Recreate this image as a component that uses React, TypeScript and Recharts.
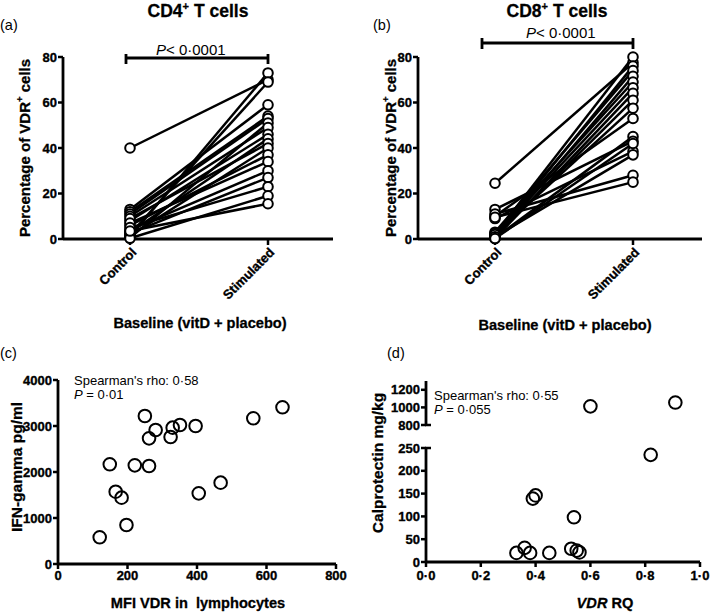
import React from "react";
import { LineChart, Line, XAxis, YAxis, ScatterChart, Scatter } from "recharts";

// paired values, one entry per subject (a = CD4+, b = CD8+)
const groups = ["Control", "Stimulated"];
const cd4Control = [40, 1, 2, 13, 12, 11, 0.5, 10, 8, 3, 9, 1.5, 6, 7, 4, 2.5, 5, 0.3, 3.5];
const cd4Stimulated = [70, 73, 69, 59, 54, 53, 51, 49, 46, 44, 42, 40, 37, 34, 30, 27, 23, 19, 15.5];
const cd8Control = [24.5, 2, 1, 3, 0.5, 2.5, 1.5, 0.3, 1, 2, 10, 0.5, 13, 9, 1, 11, 9.5, 0.2];
const cd8Stimulated = [77.5, 80, 76, 74, 71.5, 69, 66.5, 64, 61, 57.5, 53, 45, 43, 38.5, 37, 28, 25, 42];
const pctTicks = [0, 20, 40, 60, 80];

// (c) MFI VDR vs IFN-gamma
const mfiVdr = [120, 149, 166, 183, 197, 221, 250, 262, 262, 281, 324, 330, 351, 396, 405, 468, 562, 646];
const ifnGamma = [580, 2167, 1572, 1442, 848, 2145, 3217, 2732, 2130, 2913, 2761, 2964, 3022, 3000, 1536, 1768, 3167, 3406];
const mfiTicks = [0, 200, 400, 600, 800];
const ifnTicks = [0, 1000, 2000, 3000, 4000];

// (d) VDR RQ vs calprotectin (broken y axis)
const vdrRq = [0.33, 0.36, 0.38, 0.39, 0.4, 0.45, 0.53, 0.54, 0.55, 0.56, 0.6, 0.82, 0.91];
const calprotectin = [20, 31, 20, 139, 146, 20, 29, 98, 25, 21, 1012, 235, 1055];
const rqTicks = [0, 0.2, 0.4, 0.6, 0.8, 1];
const calLowTicks = [0, 50, 100, 150, 200, 250];
const calHighTicks = [800, 1000, 1200];

const FONT = '"Liberation Sans", Arial, sans-serif';
const axisLine = { stroke: "#000", strokeWidth: 2.8 };
const tickLine = { stroke: "#000", strokeWidth: 2.5 };

const pairedRows = (ctrl: number[], stim: number[]) =>
  groups.map((g, gi) => {
    const row: Record<string, number | string> = { group: g };
    ctrl.forEach((v, i) => {
      row[`s${i}`] = gi === 0 ? v : stim[i];
    });
    return row;
  });

const points = (xs: number[], ys: number[]) => xs.map((x, i) => ({ x, y: ys[i] }));

const cd4Rows = pairedRows(cd4Control, cd4Stimulated);
const cd8Rows = pairedRows(cd8Control, cd8Stimulated);
const ifnPoints = points(mfiVdr, ifnGamma);
const calPoints = points(vdrRq, calprotectin);
const calLow = calPoints.filter((p) => p.y < 800);
const calHigh = calPoints.filter((p) => p.y >= 800);

const dotFmt = (v: number) => v.toFixed(1).replace(".", "·");

// heavy bold, like the GraphPad export
const boldText = { fill: "#000", fontSize: 13, fontWeight: 700, fontFamily: FONT, stroke: "#000", strokeWidth: 0.35 };

function YTick({ x, y, payload }: any) {
  return (
    <text x={x} y={y} dy="0.36em" textAnchor="end" {...boldText}>
      {payload.value}
    </text>
  );
}

const xTick = (fmt?: (v: number) => string) => ({ x, y, payload }: any) =>
  (
    <text x={x} y={y} dy="0.72em" textAnchor="middle" {...boldText}>
      {fmt ? fmt(payload.value) : payload.value}
    </text>
  );

function SlantTick({ x, y, payload }: any) {
  return (
    <g transform={`translate(${x + 4},${y + 3})`}>
      <text x={0} y={0} dy="0.35em" textAnchor="end" transform="rotate(-45)" {...boldText}>
        {payload.value}
      </text>
    </g>
  );
}

const ring = (r: number, fill: string) => (p: any) =>
  <circle cx={p.cx} cy={p.cy} r={r} fill={fill} stroke="#000" strokeWidth={2} />;

const yAxisCommon = {
  type: "number" as const,
  stroke: "#000",
  tick: <YTick />,
  tickSize: 5,
  tickMargin: 1,
  interval: 0 as const,
  axisLine,
  tickLine,
};

function PairedPanel({ rows, n, width, right, padding }: any) {
  return (
    <LineChart width={width} height={315} data={rows} margin={{ top: 57, right, bottom: 15, left: 0 }}>
      <XAxis
        dataKey="group"
        type="category"
        stroke="#000"
        interval={0}
        padding={padding}
        height={61}
        tick={<SlantTick />}
        tickSize={6}
        tickMargin={2}
        axisLine={axisLine}
        tickLine={tickLine}
      />
      <YAxis {...yAxisCommon} domain={[0, 80]} ticks={pctTicks} width={63} />
      {Array.from({ length: n }, (_, i) => (
        <Line
          key={i}
          dataKey={`s${i}`}
          type="linear"
          stroke="#000"
          strokeWidth={2.5}
          dot={{ r: 4.8, fill: "#fff", stroke: "#000", strokeWidth: 2 }}
          activeDot={false}
          isAnimationActive={false}
        />
      ))}
    </LineChart>
  );
}

export default function App() {
  const txt = { fontFamily: FONT, fill: "#000" };
  const heavy = { ...txt, fontWeight: 700, stroke: "#000", strokeWidth: 0.3 };
  return (
    <div style={{ position: "absolute", left: 0, top: 0, width: 711, height: 612, background: "#fff", fontFamily: FONT }}>
      <div style={{ position: "absolute", left: 0, top: 0 }}>
        <PairedPanel rows={cd4Rows} n={cd4Control.length} width={340} right={7} padding={{ left: 67, right: 65 }} />
      </div>
      <div style={{ position: "absolute", left: 355, top: 0 }}>
        <PairedPanel rows={cd8Rows} n={cd8Control.length} width={356} right={9} padding={{ left: 77, right: 69 }} />
      </div>

      <div style={{ position: "absolute", left: 0, top: 320 }}>
        <ScatterChart width={352} height={290} margin={{ top: 60, right: 16, bottom: 0, left: 0 }}>
          <XAxis
            type="number"
            dataKey="x"
            stroke="#000"
            domain={[0, 800]}
            ticks={mfiTicks}
            interval={0}
            height={46}
            tick={xTick()}
            tickSize={5}
            tickMargin={2}
            axisLine={axisLine}
            tickLine={tickLine}
          />
          <YAxis {...yAxisCommon} dataKey="y" domain={[0, 4000]} ticks={ifnTicks} width={58} />
          <Scatter data={ifnPoints} shape={ring(6.3, "none")} isAnimationActive={false} />
        </ScatterChart>
      </div>

      <div style={{ position: "absolute", left: 355, top: 371 }}>
        <ScatterChart width={356} height={62} margin={{ top: 10, right: 11, bottom: 8, left: 0 }}>
          <XAxis type="number" dataKey="x" domain={[0, 1]} hide />
          <YAxis {...yAxisCommon} dataKey="y" domain={[800, 1300]} ticks={calHighTicks} width={71} />
          <Scatter data={calHigh} shape={ring(6.3, "none")} isAnimationActive={false} />
        </ScatterChart>
      </div>
      <div style={{ position: "absolute", left: 355, top: 438 }}>
        <ScatterChart width={356} height={164} margin={{ top: 10, right: 11, bottom: 0, left: 0 }}>
          <XAxis
            type="number"
            dataKey="x"
            stroke="#000"
            domain={[0, 1]}
            ticks={rqTicks}
            interval={0}
            height={40}
            tick={xTick(dotFmt)}
            tickSize={5}
            tickMargin={4}
            axisLine={axisLine}
            tickLine={tickLine}
          />
          <YAxis {...yAxisCommon} dataKey="y" domain={[0, 250]} ticks={calLowTicks} width={71} />
          <Scatter data={calLow} shape={ring(6.3, "none")} isAnimationActive={false} />
        </ScatterChart>
      </div>

      <svg width={711} height={612} style={{ position: "absolute", left: 0, top: 0, pointerEvents: "none" }}>
        {/* panel letters */}
        <text x={0} y={30} fontSize={14.5} {...txt}>(a)</text>
        <text x={373} y={30} fontSize={14.5} {...txt}>(b)</text>
        <text x={0} y={358} fontSize={14.5} {...txt}>(c)</text>
        <text x={387} y={358} fontSize={14.5} {...txt}>(d)</text>

        {/* titles */}
        <text x={198} y={17} fontSize={17.5} textAnchor="middle" {...heavy}>
          CD4<tspan dy={-7} fontSize={11}>+</tspan><tspan dy={7}> T cells</tspan>
        </text>
        <text x={557} y={17} fontSize={17.5} textAnchor="middle" {...heavy}>
          CD8<tspan dy={-7} fontSize={11}>+</tspan><tspan dy={7}> T cells</tspan>
        </text>

        {/* significance brackets */}
        <path d="M126 64 V54 M126 58 H268 M268 54 V64" stroke="#000" strokeWidth={2.8} fill="none" />
        <text x={156} y={55} fontSize={15} {...txt}>
          <tspan fontStyle="italic">P</tspan>&lt; 0·0001
        </text>
        <path d="M482 49 V38 M482 43 H633 M633 38 V49" stroke="#000" strokeWidth={2.8} fill="none" />
        <text x={526} y={38} fontSize={15} {...txt}>
          <tspan fontStyle="italic">P</tspan>&lt; 0·0001
        </text>

        {/* y-axis titles */}
        <text transform="translate(24,148) rotate(-90)" textAnchor="middle" dominantBaseline="central" fontSize={15} {...heavy}>
          Percentage of VDR<tspan dy={-5} fontSize={9.5}>+</tspan><tspan dy={5}> cells</tspan>
        </text>
        <text transform="translate(390,148) rotate(-90)" textAnchor="middle" dominantBaseline="central" fontSize={15} {...heavy}>
          Percentage of VDR<tspan dy={-5} fontSize={9.5}>+</tspan><tspan dy={5}> cells</tspan>
        </text>
        <text transform="translate(16,467) rotate(-90)" textAnchor="middle" dominantBaseline="central" fontSize={15.5} {...heavy}>
          IFN-gamma pg/ml
        </text>
        <text transform="translate(377,463) rotate(-90)" textAnchor="middle" dominantBaseline="central" fontSize={15.5} {...heavy}>
          Calprotectin mg/kg
        </text>

        {/* x-axis titles */}
        <text x={200} y={328} fontSize={14.6} textAnchor="middle" {...heavy}>Baseline (vitD + placebo)</text>
        <text x={565} y={330} fontSize={14.6} textAnchor="middle" {...heavy}>Baseline (vitD + placebo)</text>
        <text x={198} y={608} fontSize={14.6} textAnchor="middle" style={{ whiteSpace: "pre" }} {...heavy}>
          MFI VDR in  lymphocytes
        </text>
        <text x={605} y={608} fontSize={14.6} textAnchor="middle" {...heavy}>
          <tspan fontStyle="italic">VDR</tspan> RQ
        </text>

        {/* correlation notes */}
        <text x={74} y={385} fontSize={13} {...txt}>Spearman's rho: 0·58</text>
        <text x={74} y={399} fontSize={13} {...txt}>
          <tspan fontStyle="italic">P</tspan> = 0·01
        </text>
        <text x={434} y={400} fontSize={13} {...txt}>Spearman's rho: 0·55</text>
        <text x={434} y={414} fontSize={13} {...txt}>
          <tspan fontStyle="italic">P</tspan> = 0·055
        </text>

        {/* axis break marks */}
        <path d="M425 425 H431 M425 448 H431" stroke="#000" strokeWidth={2.5} />
      </svg>
    </div>
  );
}
